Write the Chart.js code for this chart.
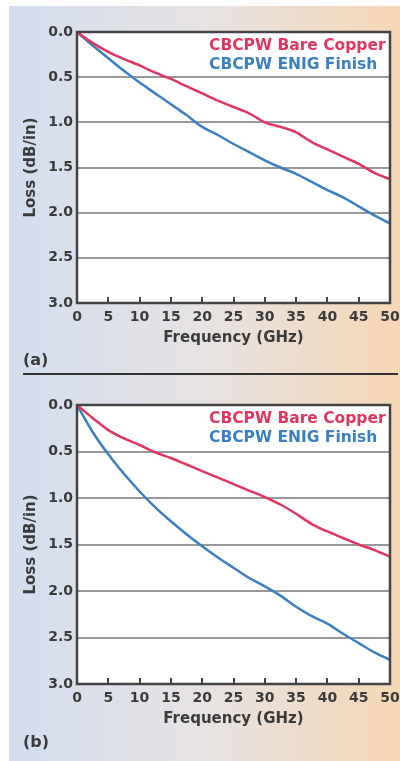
<!DOCTYPE html>
<html>
<head>
<meta charset="utf-8">
<script src="https://cdn.jsdelivr.net/npm/chart.js@4.4.1/dist/chart.umd.min.js"></script>
<style>
  html, body { margin: 0; padding: 0; background: #fff; }
  #page { position: relative; width: 400px; height: 761px; overflow: hidden; }
  #bg { position: absolute; left: 9px; top: 6px; width: 391px; height: 755px;
        background: linear-gradient(to right, #d3def0 0%, #e7e2e3 50%, #f6d7b4 100%); }
  canvas { position: absolute; left: 0; }
  .tag { position: absolute; left: 23px; font: bold 16px "DejaVu Sans"; color: #3b3b3b; }
  #sep { position: absolute; left: 23px; top: 373px; width: 375px; height: 2px; background: #333; }
</style>
</head>
<body>
<div id="page">
  <div id="bg"></div>
  <canvas id="chartA" width="400" height="376" style="top:0"></canvas>
  <canvas id="chartB" width="400" height="385" style="top:376px"></canvas>
  <div class="tag" style="top:350px">(a)</div>
  <div id="sep"></div>
  <div class="tag" style="top:732px">(b)</div>
</div>
<script>
// frequency points (GHz)
const freqGHz = [0, 2.5, 5, 7.5, 10, 12.5, 15, 17.5, 20, 22.5, 25, 27.5, 30, 32.5, 35, 37.5, 40, 42.5, 45, 47.5, 50];

// (a) loss in dB/in
const bareCopperA = [0, 0.12, 0.22, 0.30, 0.37, 0.45, 0.52, 0.60, 0.68, 0.76, 0.83, 0.90, 1.00, 1.05, 1.11, 1.22, 1.30, 1.38, 1.46, 1.56, 1.63];
const enigA = [0, 0.15, 0.29, 0.43, 0.56, 0.68, 0.80, 0.92, 1.05, 1.14, 1.24, 1.33, 1.42, 1.50, 1.57, 1.66, 1.75, 1.83, 1.93, 2.03, 2.12];

// (b) loss in dB/in
const bareCopperB = [0, 0.14, 0.27, 0.36, 0.43, 0.51, 0.57, 0.64, 0.71, 0.78, 0.85, 0.92, 0.99, 1.07, 1.17, 1.28, 1.36, 1.43, 1.50, 1.56, 1.63];
const enigB = [0, 0.29, 0.53, 0.74, 0.93, 1.10, 1.25, 1.39, 1.52, 1.64, 1.75, 1.86, 1.95, 2.05, 2.17, 2.27, 2.35, 2.46, 2.56, 2.66, 2.74];

const seriesLabels = ['CBCPW Bare Copper', 'CBCPW ENIG Finish'];
const seriesColors = ['#e2365f', '#3a80c2'];
const yTicks = [0, 0.5, 1.0, 1.5, 2.0, 2.5, 3.0];

const textColor = '#3b3b3b';
const fontFamily = '"DejaVu Sans"';

const toPoints = function (ys) {
    return freqGHz.map((f, i) => ({ x: f, y: ys[i] }));
};

// white plot area, frame, inward x ticks, inline legend
const framePlugin = {
    id: 'frame',
    beforeDraw(chart) {
        const { ctx, chartArea: a } = chart;
        ctx.save();
        ctx.fillStyle = '#fff';
        ctx.fillRect(a.left, a.top, a.right - a.left, a.bottom - a.top);
        ctx.restore();
    },
    afterDatasetsDraw(chart) {
        const { ctx, chartArea: a, scales } = chart;
        ctx.save();
        ctx.strokeStyle = '#444';
        ctx.lineWidth = 2.5;
        ctx.strokeRect(a.left, a.top, a.right - a.left, a.bottom - a.top);
        ctx.lineWidth = 2;
        scales.x.ticks.forEach(t => {
            if (t.value <= scales.x.min || t.value >= scales.x.max) return;
            const px = Math.round(scales.x.getPixelForValue(t.value));
            ctx.beginPath();
            ctx.moveTo(px, a.bottom);
            ctx.lineTo(px, a.bottom - 6);
            ctx.stroke();
        });
        ctx.font = 'bold 15.5px ' + fontFamily;
        ctx.textBaseline = 'middle';
        chart.data.datasets.forEach((ds, i) => {
            ctx.fillStyle = ds.borderColor;
            ctx.fillText(ds.label, a.left + 132, a.top + 13.5 + i * 19);
        });
        ctx.restore();
    }
};

const makeChart = function (id, copper, enig, padTop, xHeight) {
    const ctx = document.getElementById(id).getContext('2d');
    return new Chart(ctx, {
        type: 'line',
        data: {
            datasets: [copper, enig].map((ys, i) => ({
                label: seriesLabels[i],
                data: toPoints(ys),
                borderColor: seriesColors[i],
                borderWidth: 2.5,
                pointRadius: 0,
                cubicInterpolationMode: 'monotone',
                fill: false
            }))
        },
        options: {
            responsive: false,
            animation: false,
            layout: { padding: { top: padTop, right: 10, left: 0, bottom: 0 } },
            plugins: { legend: { display: false }, tooltip: { enabled: false } },
            scales: {
                x: {
                    type: 'linear', min: 0, max: 50,
                    afterFit: s => { s.height = xHeight; s.paddingLeft = 0; s.paddingRight = 0; },
                    grid: { display: false, drawTicks: false },
                    border: { display: false },
                    ticks: { stepSize: 5, autoSkip: false, maxRotation: 0, padding: 6,
                             color: textColor, font: { family: fontFamily, size: 14, weight: 'bold' } },
                    title: { display: true, text: 'Frequency (GHz)', color: textColor,
                             padding: { top: 0, bottom: xHeight - 44 },
                             font: { family: fontFamily, size: 15, weight: 'bold' } }
                },
                y: {
                    type: 'linear', min: 0, max: 3, reverse: true,
                    afterFit: s => { s.width = 77; },
                    afterBuildTicks: s => { s.ticks = yTicks.map(v => ({ value: v })); },
                    grid: { color: '#999', lineWidth: 2, drawTicks: false },
                    border: { display: false },
                    ticks: { padding: 4, color: textColor,
                             font: { family: fontFamily, size: 14, weight: 'bold' },
                             callback: v => v.toFixed(1) },
                    title: { display: true, text: 'Loss (dB/in)', color: textColor,
                             padding: { top: 22, bottom: 0 },
                             font: { family: fontFamily, size: 15, weight: 'bold' } }
                }
            }
        },
        plugins: [framePlugin]
    });
};

makeChart('chartA', bareCopperA, enigA, 32, 73);
makeChart('chartB', bareCopperB, enigB, 29, 77);
</script>
</body>
</html>
